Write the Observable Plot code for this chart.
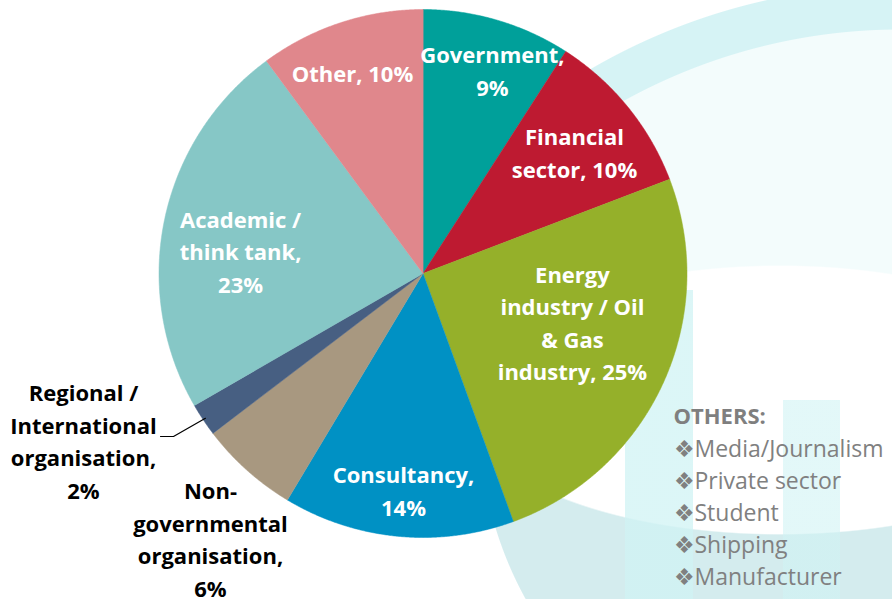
<!DOCTYPE html>
<html>
<head>
<meta charset="utf-8">
<script src="https://cdn.jsdelivr.net/npm/d3@7"></script>
<script src="https://cdn.jsdelivr.net/npm/@observablehq/plot@0.6"></script>
<style>
  html, body { margin: 0; padding: 0; background: #fff; }
  #chart {
    width: 892px; height: 599px; position: relative; overflow: hidden;
    background:
      linear-gradient(rgba(208,243,244,0.75), rgba(208,243,244,0.75)) 625px 290px / 68px 309px no-repeat,
      linear-gradient(rgba(208,243,244,0.6), rgba(208,243,244,0.6)) 783px 400px / 57px 199px no-repeat,
      radial-gradient(ellipse 320px 135px at 780px 400px, #ffffff 0 99%, transparent 100%),
      radial-gradient(circle at 850px -60px, rgba(212,236,238,1) 0 370px, transparent 371px) 0 480px / 892px 119px no-repeat,
      radial-gradient(circle at 380px 600px, rgba(243,252,252,1) 0 570px, rgba(214,243,245,1) 571px 614px, transparent 615px) 520px 0 / 372px 330px no-repeat;
  }
</style>
</head>
<body>
<div id="chart"></div>
<script>
// ---- data ----
const categories = [
  "Government",
  "Financial sector",
  "Energy industry / Oil & Gas industry",
  "Consultancy",
  "Non-governmental organisation",
  "Regional / International organisation",
  "Academic / think tank",
  "Other"
];
const shares = [9, 10, 25, 14, 6, 2, 23, 10];
const labelTexts = [
  "Government,\n9%",
  "Financial\nsector, 10%",
  "Energy\nindustry / Oil\n& Gas\nindustry, 25%",
  "Consultancy,\n14%",
  "Non-\ngovernmental\norganisation,\n6%",
  "Regional /\nInternational\norganisation,\n2%",
  "Academic /\nthink tank,\n23%",
  "Other, 10%"
];
const othersTitle = "OTHERS:";
const othersItems = ["Media/Journalism", "Private sector", "Student", "Shipping", "Manufacturer"];

// ---- styles / layout ----
const colors = ["#00A09A", "#BE1A31", "#95B02A", "#0091C4", "#A89880", "#475F82", "#86C7C6", "#E0878C"];
const labelColors = ["#fff", "#fff", "#fff", "#fff", "#000", "#000", "#fff", "#fff"];
// label block centres in unit-circle coordinates
const labelPos = [
  [0.263, 0.763], [0.574, 0.453], [0.566, -0.191], [-0.074, -0.828],
  [-0.805, -1.012], [-1.286, -0.640], [-0.691, 0.078], [-0.267, 0.754]
];
const cx = 422.5, cy = 273, R = 264;
const othersLeftPx = 673, othersTitleBasePx = 423, othersItemBasePx = 456, othersStepPx = 32;
const toU = px => (px - cx) / R;
const toV = py => (cy - py) / R;

// ---- geometry via d3.pie ----
const arcs = d3.pie().sort(null).value(d => d)(shares);
const slicePts = [];
arcs.forEach((a, i) => {
  const cat = categories[i];
  slicePts.push({category: cat, x: 0, y: 0});
  const n = Math.max(2, Math.ceil((a.endAngle - a.startAngle) / 0.005));
  for (let k = 0; k <= n; k++) {
    const t = a.startAngle + (a.endAngle - a.startAngle) * k / n;
    slicePts.push({category: cat, x: Math.sin(t), y: Math.cos(t)});
  }
});
const labels = categories.map((c, i) => ({
  category: c, text: labelTexts[i], x: labelPos[i][0], y: labelPos[i][1], color: labelColors[i]
}));
// leader for the small Regional slice
const ri = 5;
const mid = (arcs[ri].startAngle + arcs[ri].endAngle) / 2;
const leader = [
  {x: toU(160), y: toV(436)},
  {x: toU(173), y: toV(436)},
  {x: Math.sin(mid) * 0.99, y: Math.cos(mid) * 0.99}
];
const items = othersItems.map((s, i) => ({text: "\u2756" + s, i}));

const plot = Plot.plot({
  width: 892,
  height: 599,
  margin: 0,
  style: {background: "transparent", overflow: "visible"},
  x: {domain: [-1, 1], range: [cx - R, cx + R], axis: null},
  y: {domain: [-1, 1], range: [cy + R, cy - R], axis: null},
  color: {type: "ordinal", domain: categories, range: colors},
  marks: [
    Plot.line(slicePts, {x: "x", y: "y", z: "category", fill: "category", stroke: "category", strokeWidth: 0.5, curve: "linear-closed"}),
    Plot.line(leader, {x: "x", y: "y", stroke: "#000", strokeWidth: 1.2}),
    Plot.text(labels, {
      x: "x", y: "y", text: "text", fill: "color",
      fontSize: 22, fontWeight: "bold", fontFamily: "Open Sans",
      lineHeight: 1.48, lineAnchor: "middle", textAnchor: "middle", dy: -3
    }),
    Plot.text([othersTitle], {
      x: () => toU(othersLeftPx), y: () => toV(othersTitleBasePx), text: d => d, fill: "#7F7F7F",
      fontSize: 22, fontWeight: "bold", fontFamily: "Open Sans",
      textAnchor: "start", lineAnchor: "bottom"
    }),
    Plot.text(items, {
      x: () => toU(othersLeftPx), y: d => toV(othersItemBasePx + d.i * othersStepPx), text: "text", fill: "#808080",
      fontSize: 23, fontFamily: "Open Sans",
      textAnchor: "start", lineAnchor: "bottom"
    })
  ]
});
document.getElementById("chart").appendChild(plot);
</script>
</body>
</html>
